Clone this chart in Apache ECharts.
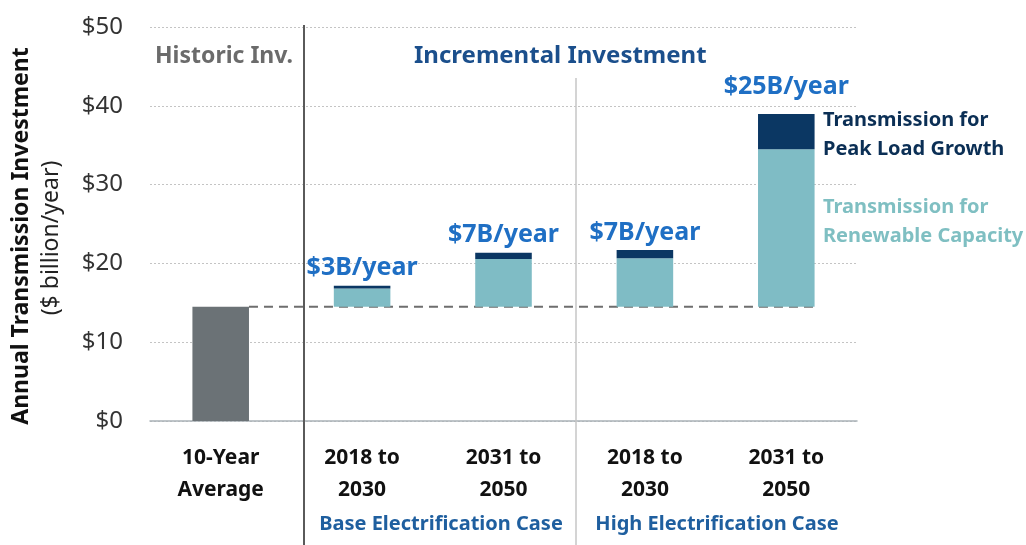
<!DOCTYPE html>
<html>
<head>
<meta charset="utf-8">
<script src="https://cdn.jsdelivr.net/npm/echarts@6/dist/echarts.min.js"></script>
<style>html,body{margin:0;padding:0;background:#fff}#c{width:1026px;height:545px}</style>
</head>
<body>
<div id="c"></div>
<script>
const categories = ['10-Year\nAverage', '2018 to\n2030', '2031 to\n2050', '2018 to\n2030', '2031 to\n2050'];
const historicValues = [14.5, '-', '-', '-', '-'];
const baseValues = [0, 14.5, 14.5, 14.5, 14.5];
const renewableValues = ['-', 2.3, 6.05, 6.15, 20.0];
const peakLoadValues = ['-', 0.35, 0.8, 1.05, 4.45];
const barLabels = ['', '$3B/year', '$7B/year', '$7B/year', '$25B/year'];
const historicLevel = 14.5;
const yTicks = [0, 10, 20, 30, 40, 50];

const chart = echarts.init(document.getElementById('c'));
const FONT = 'Noto Sans';

const option = {
  animation: false,
  textStyle: { fontFamily: FONT },
  grid: { left: 150, right: 169, top: 27, bottom: 124 },
  xAxis: {
    type: 'category',
    data: categories,
    axisTick: { show: false },
    axisLine: { lineStyle: { color: '#a9b1b6', width: 1.5 } },
    axisLabel: { color: '#111', fontSize: 21, fontWeight: 'bold', lineHeight: 32, margin: 21, fontFamily: FONT }
  },
  yAxis: {
    type: 'value',
    min: yTicks[0], max: yTicks[yTicks.length - 1], interval: 10,
    axisLine: { show: false },
    axisTick: { show: false },
    axisLabel: { color: '#333', fontSize: 24, margin: 27, formatter: v => '$' + v, fontFamily: FONT },
    splitLine: { lineStyle: { color: '#c4c4c4', type: [2, 2], width: 1 } }
  },
  series: [
    {
      type: 'custom',
      z: 1,
      data: [[0, historicLevel, categories.length - 1]],
      renderItem: function (params, api) {
        const v = api.value(1);
        const p1 = api.coord([api.value(0), v]);
        const p2 = api.coord([api.value(2), v]);
        const band = api.size([1, 0])[0];
        return {
          type: 'line',
          shape: { x1: p1[0] + band * 0.2, y1: p1[1], x2: p2[0] + band * 0.2, y2: p2[1] },
          style: { stroke: '#6e6e6e', lineWidth: 2, lineDash: [9, 6] }
        };
      },
      silent: true
    },
    {
      type: 'bar', stack: 's', data: baseValues, barCategoryGap: '60%',
      itemStyle: { color: 'transparent' }, silent: true
    },
    {
      type: 'bar', stack: 's', data: historicValues, z: 3,
      itemStyle: { color: '#6b7276' }
    },
    {
      type: 'bar', stack: 's', data: renewableValues, z: 3,
      itemStyle: { color: '#7fbcc5' }
    },
    {
      type: 'bar', stack: 's', z: 3,
      data: peakLoadValues.map((v, i) => ({
        value: v,
        label: { show: barLabels[i] !== '', distance: i === 4 ? 15 : 5 }
      })),
      itemStyle: { color: '#0b3763' },
      label: {
        show: true, position: 'top', color: '#1f6fc4', fontSize: 25, fontWeight: 'bold', fontFamily: FONT,
        formatter: p => barLabels[p.dataIndex]
      }
    }
  ],
  graphic: [
    { type: 'line', shape: { x1: 304, y1: 25, x2: 304, y2: 545 }, style: { stroke: '#5a5a5a', lineWidth: 2 }, z: 10 },
    { type: 'line', shape: { x1: 576, y1: 78, x2: 576, y2: 545 }, style: { stroke: '#c6c6c6', lineWidth: 1.5 }, z: 10 },
    { type: 'text', x: 155, y: 56, style: { text: 'Historic Inv.', fill: '#6b6b6b', font: 'bold 23px "Noto Sans"', textVerticalAlign: 'middle' } },
    { type: 'text', x: 414, y: 56, style: { text: 'Incremental Investment', fill: '#1b4f8c', font: 'bold 24px "Noto Sans"', textVerticalAlign: 'middle' } },
    { type: 'text', left: 823, top: 106, style: { text: 'Transmission for\nPeak Load Growth', fill: '#0b2f55', font: 'bold 20px "Noto Sans"', lineHeight: 29 } },
    { type: 'text', left: 823, top: 193, style: { text: 'Transmission for\nRenewable Capacity', fill: '#7fbfc2', font: 'bold 20px "Noto Sans"', lineHeight: 29 } },
    { type: 'text', x: 441, y: 524, style: { text: 'Base Electrification Case', fill: '#1f5f9f', font: 'bold 20px "Noto Sans"', textAlign: 'center', textVerticalAlign: 'middle' } },
    { type: 'text', x: 717, y: 524, style: { text: 'High Electrification Case', fill: '#1f5f9f', font: 'bold 20px "Noto Sans"', textAlign: 'center', textVerticalAlign: 'middle' } },
    { type: 'text', x: 21, y: 236, rotation: Math.PI / 2, style: { text: 'Annual Transmission Investment', fill: '#111', font: 'bold 23px "Noto Sans"', textAlign: 'center', textVerticalAlign: 'middle' } },
    { type: 'text', x: 51, y: 238, rotation: Math.PI / 2, style: { text: '($ billion/year)', fill: '#222', font: '23px "Noto Sans"', textAlign: 'center', textVerticalAlign: 'middle' } }
  ]
};
chart.setOption(option);
</script>
</body>
</html>
